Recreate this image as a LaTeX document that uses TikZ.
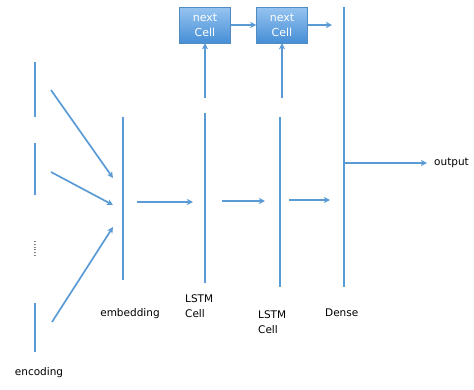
\documentclass[tikz,border=0pt]{standalone}
\usepackage{fontspec}
\setmainfont{DejaVu Sans}
\usetikzlibrary{arrows.meta,shadows,positioning}
\definecolor{lineblue}{RGB}{91,155,213}
\definecolor{boxtop}{RGB}{150,196,240}
\definecolor{boxbottom}{RGB}{70,142,214}

\begin{document}
\begin{tikzpicture}[
      x=1pt, y=-1pt,
      font=\fontsize{10.5}{15}\selectfont,
      bar/.style={draw=lineblue, line width=1.7pt},
      link/.style={
        draw=lineblue,
        line width=1.7pt,
        -{Stealth[length=6pt,width=6pt,inset=1.5pt]}
      },
      cell/.style={
        rectangle,
        draw=lineblue!90!black,
        top color=boxtop,
        bottom color=boxbottom,
        text=white,
        align=center,
        font=\fontsize{11}{15}\selectfont,
        minimum width=51pt,
        minimum height=36pt,
        inner sep=1pt,
        drop shadow={opacity=0.25, shadow xshift=0.6pt, shadow yshift=-1pt}
      },
      label/.style={inner sep=0pt, align=left}
    ]
    \useasboundingbox (0,0) rectangle (474,389);

    % encoding bars
    \draw[bar] (35,62) -- (35,117);
    \draw[bar] (35,143) -- (35,195);
    \draw[bar] (35,303) -- (35,352);
    \node[rotate=90, inner sep=0pt, font=\fontsize{9}{9}\selectfont]
      (Dots) at (35,249) {......};

    % layers
    \draw[bar] (123,117) -- (123,280);
    \draw[bar] (205,113) -- (205,283);
    \draw[bar] (280,117) -- (280,287);
    \draw[bar] (344,7) -- (344,287);

    \node[cell] (NextOne) at (205,25) {next\\Cell};
    \node[cell] (NextTwo) at (282,25) {next\\Cell};

    \coordinate (EncOut1) at (51,90);
    \coordinate (EncOut2) at (51,172);
    \coordinate (EncOut3) at (52,322);
    \coordinate (EmbIn1) at (113,178);
    \coordinate (EmbIn2) at (113,205);
    \coordinate (EmbIn3) at (113,227);
    \coordinate (EmbOut) at (137,202);
    \coordinate (LstmOneIn) at (193,202);
    \coordinate (LstmOneOut) at (222,201);
    \coordinate (LstmOneUp) at (205,98);
    \coordinate (LstmTwoIn) at (265,201);
    \coordinate (LstmTwoOut) at (289,200);
    \coordinate (LstmTwoUp) at (282,98);
    \coordinate (DenseIn) at (330,200);
    \coordinate (DenseOut) at (344,163);
    \coordinate (Output) at (427,163);
    \coordinate (CellEnd) at (332,25);

    \draw[link] (EncOut1) -- (EmbIn1);
    \draw[link] (EncOut2) -- (EmbIn2);
    \draw[link] (EncOut3) -- (EmbIn3);
    \draw[link] (EmbOut) -- (LstmOneIn);
    \draw[link] (LstmOneOut) -- (LstmTwoIn);
    \draw[link] (LstmTwoOut) -- (DenseIn);
    \draw[link] (DenseOut) -- (Output);
    \draw[link] (LstmOneUp) -- (NextOne.south);
    \draw[link] (LstmTwoUp) -- (NextTwo.south);
    \draw[link] (NextOne.east) -- (NextTwo.west);
    \draw[link] (NextTwo.east) -- (CellEnd);

    % labels
    \node[label] (Encoding) at (39,373) {encoding};
    \node[label] (Embedding) at (130,314) {embedding};
    \node[label, anchor=west] (LstmOne) at (185,306) {LSTM\\Cell};
    \node[label, anchor=west] (LstmTwo) at (258,322) {LSTM\\Cell};
    \node[label, anchor=west] (Dense) at (325,313) {Dense};
    \node[label, anchor=west] (OutputText) at (434,163) {output};
  \end{tikzpicture}
\end{document}
